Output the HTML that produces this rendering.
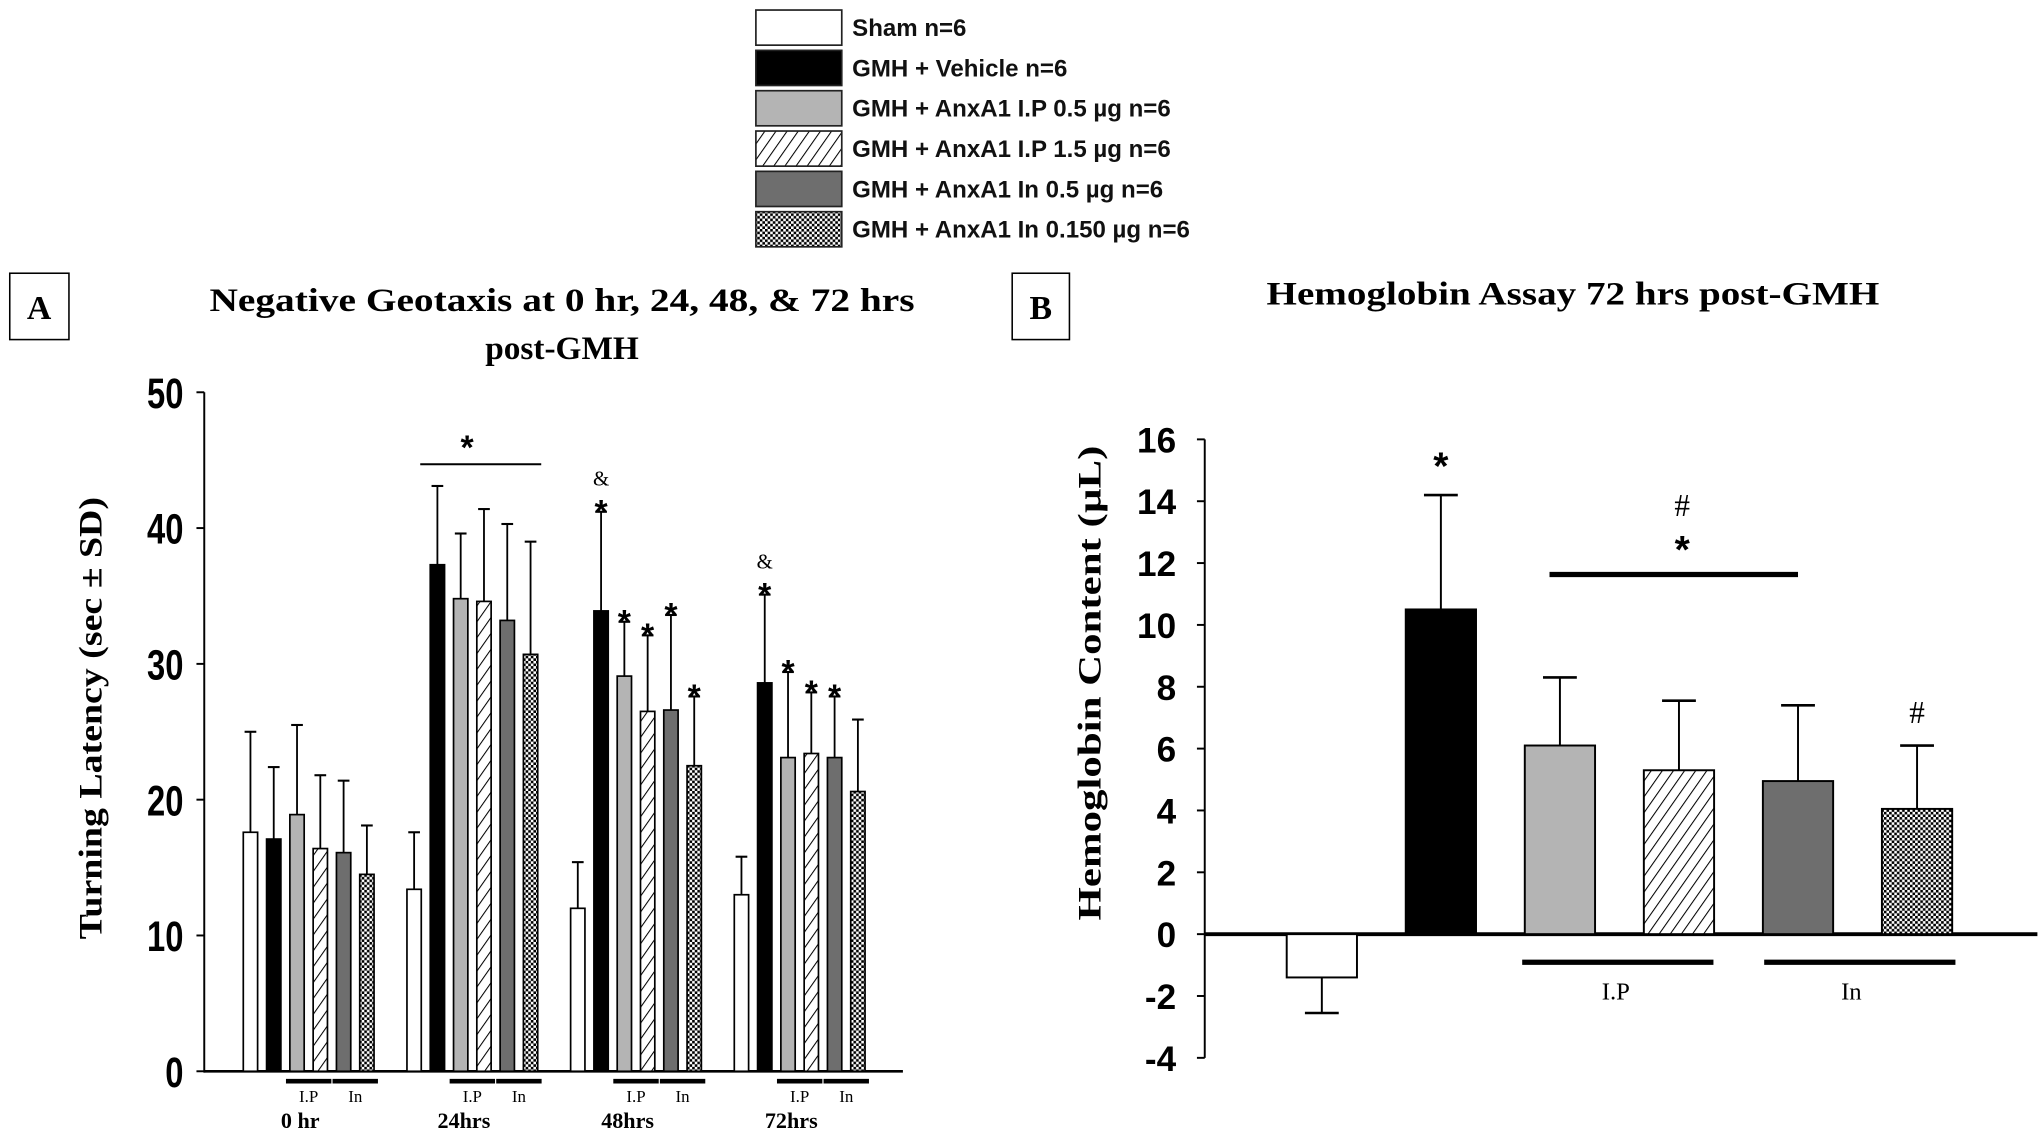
<!DOCTYPE html>
<html><head><meta charset="utf-8"><style>
html,body{margin:0;padding:0;background:#fff}
svg{display:block}
</style></head><body>
<svg id="fig" xmlns="http://www.w3.org/2000/svg" width="2040" height="1134" viewBox="0 0 1568 871.6">
<defs>
<pattern id="hatch" patternUnits="userSpaceOnUse" width="7" height="7" patternTransform="rotate(35)">
<rect width="7" height="7" fill="#fff"/><line x1="0" y1="0" x2="0" y2="7" stroke="#000" stroke-width="1.6"/>
</pattern>
<pattern id="check" patternUnits="userSpaceOnUse" width="4" height="4">
<rect width="4" height="4" fill="#fff"/><rect width="2" height="2" fill="#000"/><rect x="2" y="2" width="2" height="2" fill="#000"/>
</pattern>
</defs>
<g id="legend"></g>
<g id="panelA"></g>
<g id="panelB"></g>
</svg>
<script>
const NS="http://www.w3.org/2000/svg";
// ---- data ----
const groupNames=["Sham n=6","GMH + Vehicle n=6","GMH + AnxA1 I.P 0.5 \u00b5g n=6","GMH + AnxA1 I.P 1.5 \u00b5g n=6","GMH + AnxA1 In 0.5 \u00b5g n=6","GMH + AnxA1 In 0.150 \u00b5g n=6"];
const timepoints=["0 hr","24hrs","48hrs","72hrs"];
const aTicks=[0,10,20,30,40,50];
const aMeans=[[17.6,17.1,18.9,16.4,16.1,14.5],[13.4,37.3,34.8,34.6,33.2,30.7],[12.0,33.9,29.1,26.5,26.6,22.5],[13.0,28.6,23.1,23.4,23.1,20.6]];
const aErrTop=[[25.0,22.4,25.5,21.8,21.4,18.1],[17.6,43.1,39.6,41.4,40.3,39.0],[15.4,41.2,33.1,32.1,33.6,27.6],[15.8,35.1,29.4,27.9,27.6,25.9]];
const aStars=[[0,0,0,0,0,0],[0,0,0,0,0,0],[0,1,1,1,1,1],[0,1,1,1,1,0]];
const aAmp=[[0,0,0,0,0,0],[0,0,0,0,0,0],[0,1,0,0,0,0],[0,1,0,0,0,0]];
const bTicks=[-4,-2,0,2,4,6,8,10,12,14,16];
const bMeans=[-1.4,10.5,6.1,5.3,4.95,4.05];
const bErr=[-2.55,14.2,8.3,7.55,7.4,6.1];
const fills=["#fff","#000","#b4b4b4","url(#hatch)","#6e6e6e","url(#check)"];

function el(tag,attrs,parent,text){const e=document.createElementNS(NS,tag);for(const k in attrs)e.setAttribute(k,attrs[k]);if(text!==undefined)e.textContent=text;parent.appendChild(e);return e;}

// ---- legend ----
const lg=document.getElementById('legend');
groupNames.forEach((n,i)=>{
  const y=7.7+i*31;
  const r=el('rect',{x:581,y:y,width:66,height:27,fill:fills[i],stroke:'#222','stroke-width':1.3},lg);
  
  
  const t=el('text',{x:655,y:y+20,'font-family':'"Liberation Sans", sans-serif','font-size':18.5,'font-weight':'bold',fill:'#111'},lg,n);
  
  
});

// ---- panel A ----
const A=document.getElementById('panelA');
const ayScale=v=>823.4-(v/50)*521.9;
const aBarX=(g,b)=>187+g*125.8+b*17.9;
const bw=11;
const serif='"Liberation Serif", serif';
const sans='"Liberation Sans", sans-serif';
let e;
e=el('rect',{x:7.5,y:210,width:45.5,height:51,fill:'none',stroke:'#000','stroke-width':1.2},A);

e=el('text',{x:30,y:245,'text-anchor':'middle','font-family':serif,'font-size':26,'font-weight':'bold'},A,'A');

e=el('text',{x:432,y:239,'text-anchor':'middle','font-family':serif,'font-size':25,'font-weight':'bold',textLength:542,lengthAdjust:'spacingAndGlyphs'},A,'Negative Geotaxis at 0 hr, 24, 48, & 72 hrs');

e=el('text',{x:432,y:276,'text-anchor':'middle','font-family':serif,'font-size':25,'font-weight':'bold',textLength:118,lengthAdjust:'spacingAndGlyphs'},A,'post-GMH');

e=el('text',{x:0,y:0,transform:'translate(78,552) rotate(-90)','text-anchor':'middle','font-family':serif,'font-size':25,'font-weight':'bold',textLength:340,lengthAdjust:'spacingAndGlyphs'},A,'Turning Latency (sec \u00b1 SD)');

el('line',{x1:157,y1:ayScale(50),x2:157,y2:ayScale(0)+1,stroke:'#000','stroke-width':1.5},A);
el('line',{x1:157,y1:ayScale(0),x2:694,y2:ayScale(0),stroke:'#000','stroke-width':2},A);
aTicks.forEach(t=>{
  el('line',{x1:151,y1:ayScale(t),x2:157,y2:ayScale(t),stroke:'#000','stroke-width':1.5},A);
  const s=String(t);
  const tx=el('text',{x:141,y:ayScale(t)+12,'text-anchor':'end','font-family':sans,'font-size':33,'font-weight':'bold',textLength:s.length*14,lengthAdjust:'spacingAndGlyphs'},A,s);
  
  
});
aMeans.forEach((grp,g)=>{
  grp.forEach((v,b)=>{
    const x=aBarX(g,b),cx=x+bw/2;
    const et=aErrTop[g][b];
    el('line',{x1:cx,y1:ayScale(et),x2:cx,y2:ayScale(v),stroke:'#000','stroke-width':1.4},A);
    el('line',{x1:cx-4.5,y1:ayScale(et),x2:cx+4.5,y2:ayScale(et),stroke:'#000','stroke-width':1.6},A);
    const r=el('rect',{x:x,y:ayScale(v),width:bw,height:ayScale(0)-ayScale(v),fill:fills[b],stroke:'#000','stroke-width':1.3},A);
    
    
    if(aStars[g][b]){
      const s=el('text',{x:cx,y:ayScale(et)+9,'text-anchor':'middle','font-family':sans,'font-size':26,'font-weight':'bold'},A,'*');
      
      
    }
    if(aAmp[g][b]){
      const s=el('text',{x:cx,y:ayScale(et)-20,'text-anchor':'middle','font-family':serif,'font-size':16},A,'&');
      
      
    }
  });
  const yb=831;
  el('line',{x1:aBarX(g,2)-3,y1:yb,x2:aBarX(g,3)+bw+3,y2:yb,stroke:'#000','stroke-width':3.5},A);
  el('line',{x1:aBarX(g,4)-3,y1:yb,x2:aBarX(g,5)+bw+3,y2:yb,stroke:'#000','stroke-width':3.5},A);
  let t=el('text',{x:(aBarX(g,2)+aBarX(g,3)+bw)/2,y:847,'text-anchor':'middle','font-family':serif,'font-size':13},A,'I.P');
  
  t=el('text',{x:(aBarX(g,4)+aBarX(g,5)+bw)/2,y:847,'text-anchor':'middle','font-family':serif,'font-size':13},A,'In');
  
  t=el('text',{x:aBarX(g,2)+8,y:867,'text-anchor':'middle','font-family':serif,'font-size':17,'font-weight':'bold'},A,timepoints[g]);
  
});
el('line',{x1:323,y1:ayScale(44.7),x2:416,y2:ayScale(44.7),stroke:'#000','stroke-width':1.5},A);
e=el('text',{x:359,y:ayScale(44.7)-4,'text-anchor':'middle','font-family':sans,'font-size':26,'font-weight':'bold'},A,'*');


// ---- panel B ----
const B=document.getElementById('panelB');
const byScale=v=>718-(v/16)*380.3;
const bBarX=i=>989+i*91.5;
const bbw=54;
e=el('rect',{x:778,y:210,width:44,height:51,fill:'none',stroke:'#000','stroke-width':1.2},B);

e=el('text',{x:800,y:245,'text-anchor':'middle','font-family':serif,'font-size':26,'font-weight':'bold'},B,'B');

e=el('text',{x:1209,y:234,'text-anchor':'middle','font-family':serif,'font-size':25,'font-weight':'bold',textLength:471,lengthAdjust:'spacingAndGlyphs'},B,'Hemoglobin Assay 72 hrs post-GMH');

e=el('text',{x:0,y:0,transform:'translate(846,525) rotate(-90)','text-anchor':'middle','font-family':serif,'font-size':25,'font-weight':'bold',textLength:365,lengthAdjust:'spacingAndGlyphs'},B,'Hemoglobin Content (\u00b5L)');

el('line',{x1:926,y1:byScale(16),x2:926,y2:byScale(-4),stroke:'#000','stroke-width':1.5},B);
el('line',{x1:926,y1:byScale(0),x2:1566,y2:byScale(0),stroke:'#000','stroke-width':3},B);
bTicks.forEach(t=>{
  el('line',{x1:920,y1:byScale(t),x2:926,y2:byScale(t),stroke:'#000','stroke-width':1.5},B);
  const tx=el('text',{x:904,y:byScale(t)+10,'text-anchor':'end','font-family':sans,'font-size':27,'font-weight':'bold'},B,String(t));
  
  
});
bMeans.forEach((v,i)=>{
  const x=bBarX(i),cx=x+bbw/2,er=bErr[i];
  el('line',{x1:cx,y1:byScale(er),x2:cx,y2:byScale(v),stroke:'#000','stroke-width':1.5},B);
  el('line',{x1:cx-13,y1:byScale(er),x2:cx+13,y2:byScale(er),stroke:'#000','stroke-width':2},B);
  const y0=byScale(Math.max(v,0)),h=Math.abs(byScale(v)-byScale(0));
  const r=el('rect',{x:x,y:y0,width:bbw,height:h,fill:fills[i],stroke:'#000','stroke-width':1.5},B);
  
  
});
e=el('text',{x:bBarX(1)+bbw/2,y:byScale(15.2)+12,'text-anchor':'middle','font-family':sans,'font-size':30,'font-weight':'bold'},B,'*');

el('line',{x1:1191,y1:byScale(11.63),x2:1382,y2:byScale(11.63),stroke:'#000','stroke-width':4},B);
e=el('text',{x:1293,y:byScale(12.5)+12,'text-anchor':'middle','font-family':sans,'font-size':30,'font-weight':'bold'},B,'*');

e=el('text',{x:1293,y:byScale(13.9)+9,'text-anchor':'middle','font-family':serif,'font-size':24},B,'#');

e=el('text',{x:bBarX(5)+bbw/2,y:byScale(7.2)+9,'text-anchor':'middle','font-family':serif,'font-size':24},B,'#');

el('line',{x1:1170,y1:byScale(-0.91),x2:1317,y2:byScale(-0.91),stroke:'#000','stroke-width':4},B);
el('line',{x1:1356,y1:byScale(-0.91),x2:1503,y2:byScale(-0.91),stroke:'#000','stroke-width':4},B);
e=el('text',{x:1242,y:byScale(-1.77)+8,'text-anchor':'middle','font-family':serif,'font-size':19},B,'I.P');

e=el('text',{x:1423,y:byScale(-1.77)+8,'text-anchor':'middle','font-family':serif,'font-size':19},B,'In');

</script>
</body></html>
